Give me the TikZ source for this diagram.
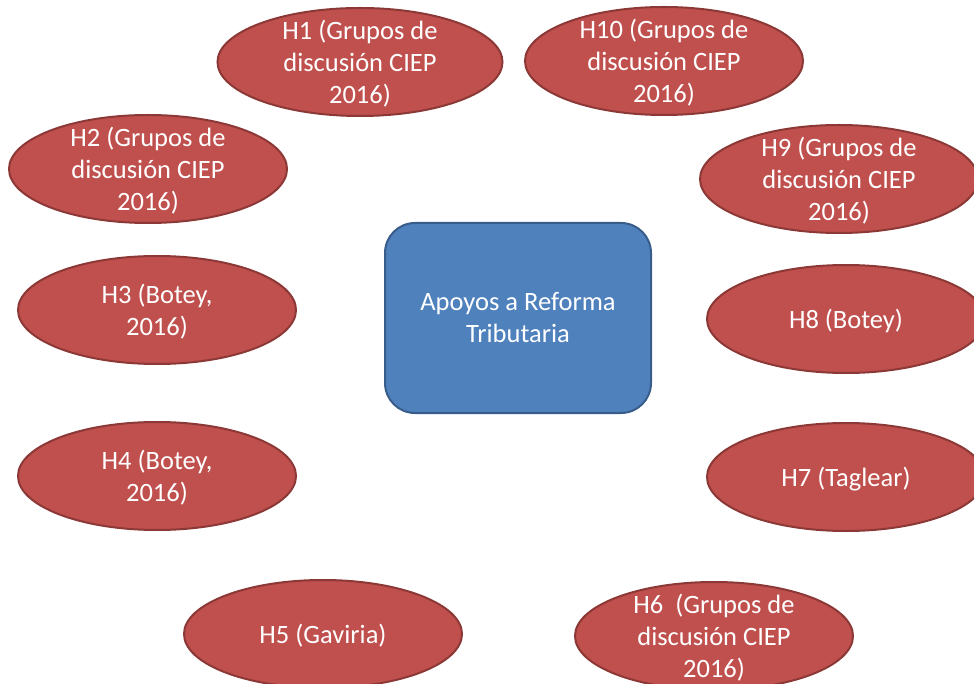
\documentclass[tikz,border=0pt]{standalone}
\usepackage{fontspec}
\setmainfont{Carlito}
\usetikzlibrary{shapes.geometric}
\definecolor{redfill}{HTML}{C0504D}
\definecolor{redline}{HTML}{8C3836}
\definecolor{bluefill}{HTML}{4F81BD}
\definecolor{blueline}{HTML}{385D8A}
\tikzset{
  hypo/.style={ellipse, fill=redfill, draw=redline, line width=2pt, inner sep=0pt,
    minimum width=278pt, minimum height=108pt},
  hypotext/.style={text=white, align=center, inner sep=0pt, yshift=-2pt,
    font=\fontsize{26.5pt}{32pt}\selectfont},
  centerbox/.style={rectangle, rounded corners=30pt, fill=bluefill, draw=blueline, line width=2pt,
    minimum width=266pt, minimum height=190pt, text=white, align=center,
    font=\fontsize{26.5pt}{32pt}\selectfont}
}
\begin{document}
\begin{tikzpicture}[x=1pt,y=-1pt]
\useasboundingbox (0,0) rectangle (974,684);
\clip (0,0) rectangle (974,684);
\node[centerbox] (c) at (518,318) {Apoyos a Reforma\\Tributaria};
\node[hypo, minimum width=285pt] (h1) at (360,62) {};
\node[hypotext] (t1) at (h1) {H1 (Grupos de\\discusión CIEP\\2016)};
\node[hypo] (h10) at (664,61) {};
\node[hypotext] (t10) at (h10) {H10 (Grupos de\\discusión CIEP\\2016)};
\node[hypo] (h2) at (148,169) {};
\node[hypotext] (t2) at (h2) {H2 (Grupos de\\discusión CIEP\\2016)};
\node[hypo] (h9) at (839,179) {};
\node[hypotext] (t9) at (h9) {H9 (Grupos de\\discusión CIEP\\2016)};
\node[hypo] (h3) at (157,310) {};
\node[hypotext] (t3) at (h3) {H3 (Botey,\\2016)};
\node[hypo] (h8) at (846,319) {};
\node[hypotext] (t8) at (h8) {H8 (Botey)};
\node[hypo] (h4) at (157,476) {};
\node[hypotext] (t4) at (h4) {H4 (Botey,\\2016)};
\node[hypo] (h7) at (846,477) {};
\node[hypotext] (t7) at (h7) {H7 (Taglear)};
\node[hypo] (h5) at (323,634) {};
\node[hypotext] (t5) at (h5) {H5 (Gaviria)};
\node[hypo] (h6) at (714,636) {};
\node[hypotext] (t6) at (h6) {H6 \ (Grupos de\\discusión CIEP\\2016)};
\end{tikzpicture}
\end{document}
